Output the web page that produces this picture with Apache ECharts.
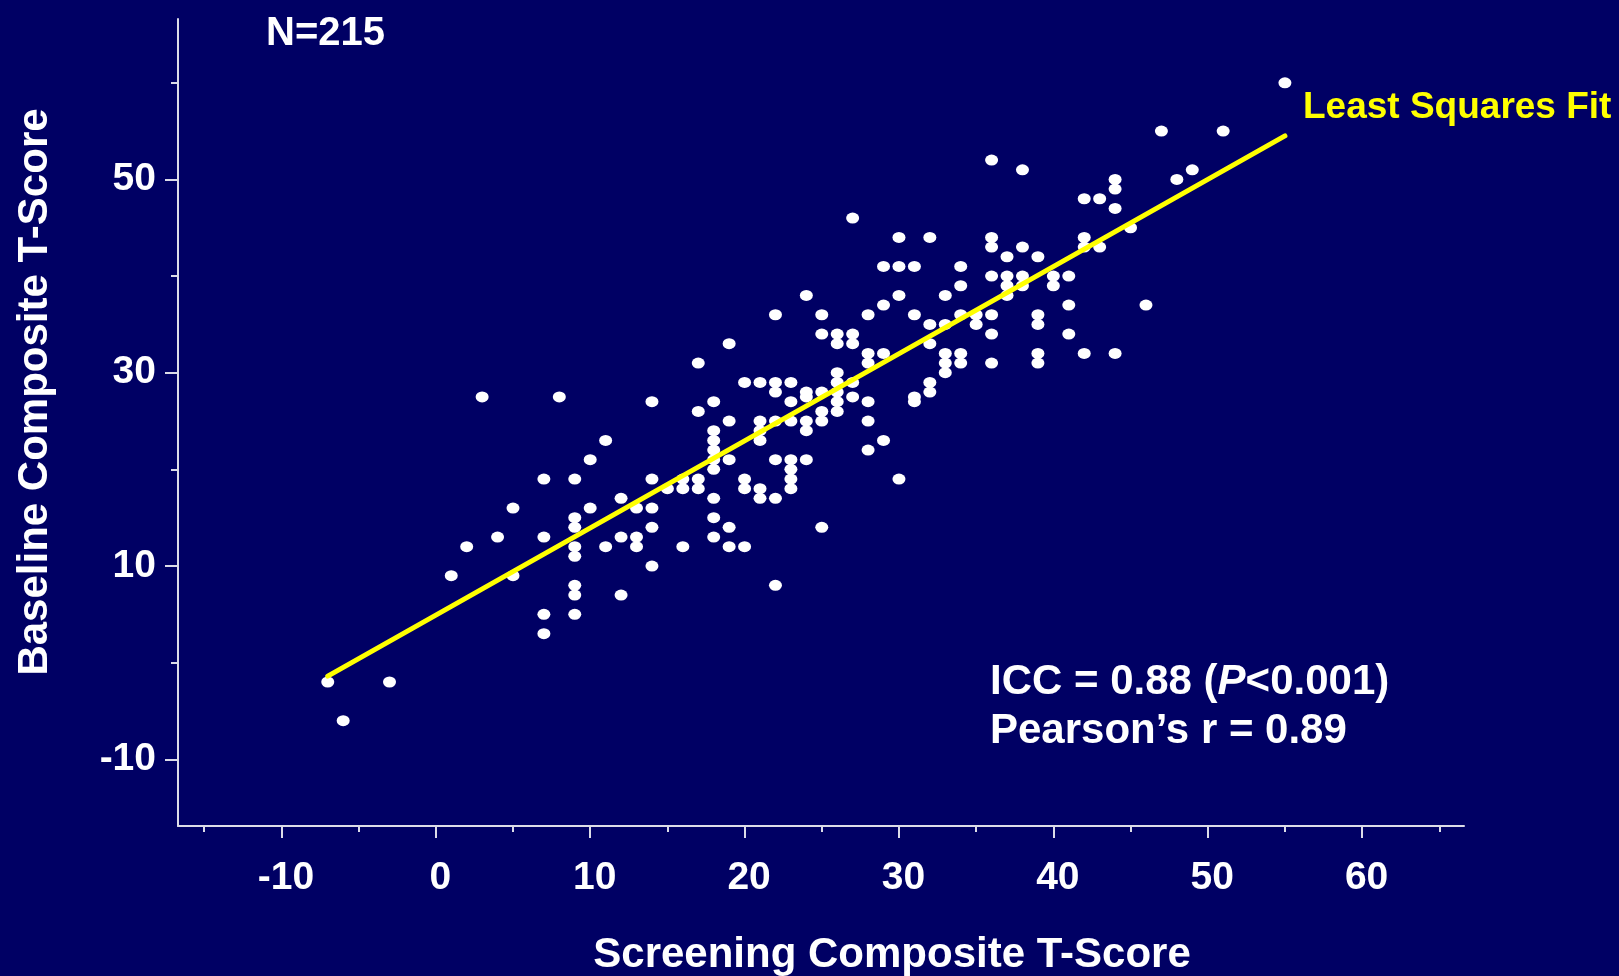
<!DOCTYPE html>
<html>
<head>
<meta charset="utf-8">
<title>Screening vs Baseline Composite T-Score</title>
<script src="https://cdn.jsdelivr.net/npm/echarts/dist/echarts.min.js"></script>
<style>
  html, body { margin: 0; padding: 0; background: #000064; }
  #chart { width: 1619px; height: 976px; }
</style>
</head>
<body>
<div id="chart"></div>
<script>
// data, grouped by screening score (x)
var screening = [
  -7, -6, -3,
  1, 2, 3, 4, 5, 5,
  7, 7, 7, 7, 8,
  9, 9, 9, 9, 9, 9, 9, 9,
  10, 10, 11, 11, 12, 12, 12, 13, 13, 13,
  14, 14, 14, 14, 14, 15, 16, 16, 16,
  17, 17, 17, 17,
  18, 18, 18, 18, 18, 18, 18, 18, 18,
  19, 19, 19, 19, 19,
  20, 20, 20, 20,
  21, 21, 21, 21, 21, 21,
  22, 22, 22, 22, 22, 22, 22,
  23, 23, 23, 23, 23, 23, 23,
  24, 24, 24, 24, 24, 24,
  25, 25, 25, 25, 25, 25,
  26, 26, 26, 26, 26, 26, 26,
  27, 27, 27, 27, 27,
  28, 28, 28, 28, 28, 28,
  29, 29, 29, 29,
  30, 30, 30, 30,
  31, 31, 31, 31,
  32, 32, 32, 32, 32,
  33, 33, 33, 33, 33,
  34, 34, 34, 34, 34,
  35, 35,
  36, 36, 36, 36, 36, 36, 36,
  37, 37, 37, 37,
  38, 38, 38, 38,
  39, 39, 39, 39, 39,
  40, 40, 41, 41, 41,
  42, 42, 42, 42, 43, 43,
  44, 44, 44, 44,
  45, 46, 47, 48, 49, 51, 55
];
var baseline = [
  -2, -6, -2,
  9, 12, 27.5, 13, 16, 9,
  19, 13, 5, 3, 27.5,
  19, 15, 14, 12, 11, 8, 7, 5,
  21, 16, 23, 12, 17, 13, 7, 16, 13, 12,
  27, 19, 16, 14, 10, 18, 19, 18, 12,
  31, 26, 19, 18,
  27, 24, 23, 22, 21, 20, 17, 15, 13,
  33, 25, 21, 14, 12,
  29, 19, 18, 12,
  29, 25, 24, 23, 18, 17,
  36, 29, 28, 25, 21, 17, 8,
  29, 27, 25, 21, 20, 19, 18,
  38, 28, 27.5, 25, 24, 21,
  36, 34, 28, 26, 25, 14,
  34, 33, 30, 29, 28, 27, 26,
  46, 34, 33, 29, 27.5,
  36, 32, 31, 27, 25, 22,
  41, 37, 32, 23,
  44, 41, 38, 19,
  41, 36, 27.5, 27,
  44, 35, 33, 29, 28,
  38, 35, 32, 31, 30,
  41, 39, 36, 32, 31,
  36, 35,
  52, 44, 43, 40, 36, 34, 31,
  42, 40, 39, 38,
  51, 43, 40, 39,
  42, 36, 35, 32, 31,
  40, 39, 40, 37, 34,
  48, 44, 43, 32, 48, 43,
  50, 49, 47, 32,
  45, 37, 55, 50, 51, 55, 60
];

// least squares fit line end points
var fitX = [-7, 55];
var fitY = [-1.4, 54.5];

// ticks
var xMajorTicks = [-10, 0, 10, 20, 30, 40, 50, 60];
var xMinorTicks = [-15, -5, 5, 15, 25, 35, 45, 55, 65];
var yMajorTicks = [-10, 10, 30, 50];
var yMinorTicks = [0, 20, 40, 60];

var fontFam = 'Arial, "Liberation Sans", Helvetica, sans-serif';
var white = '#ffffff';
var axisCol = '#dcdce8';

var points = [];
for (var i = 0; i < screening.length; i++) {
  points.push([screening[i], baseline[i]]);
}
var fitData = [];
for (var j = 0; j < fitX.length; j++) {
  fitData.push([fitX[j], fitY[j]]);
}

var labelStyle = {
  color: white,
  fontWeight: 'bold',
  fontSize: 39,
  fontFamily: fontFam
};

var chart = echarts.init(document.getElementById('chart'));

var option = {
  backgroundColor: '#000064',
  animation: false,
  grid: {
    left: 178,
    right: 155,
    top: 19,
    bottom: 150
  },
  xAxis: [{
    type: 'value',
    position: 'bottom',
    min: -16.7,
    max: 66.6,
    splitLine: { show: false },
    axisLine: { show: true, onZero: false, lineStyle: { color: axisCol, width: 2 } },
    axisTick: { show: true, length: 12, customValues: xMajorTicks, lineStyle: { color: axisCol, width: 2 } },
    axisLabel: Object.assign({ margin: 33, padding: [0, 0, 0, 9], customValues: xMajorTicks }, labelStyle)
  }, {
    type: 'value',
    position: 'bottom',
    min: -16.7,
    max: 66.6,
    splitLine: { show: false },
    axisLine: { show: false, onZero: false },
    axisTick: { show: true, length: 6, customValues: xMinorTicks, lineStyle: { color: axisCol, width: 2 } },
    axisLabel: { show: false }
  }],
  yAxis: [{
    type: 'value',
    position: 'left',
    min: -16.9,
    max: 66.6,
    splitLine: { show: false },
    axisLine: { show: true, onZero: false, lineStyle: { color: axisCol, width: 2 } },
    axisTick: { show: true, length: 13, customValues: yMajorTicks, lineStyle: { color: axisCol, width: 2 } },
    axisLabel: Object.assign({ margin: 22, padding: [4, 0, 0, 0], customValues: yMajorTicks }, labelStyle)
  }, {
    type: 'value',
    position: 'left',
    min: -16.9,
    max: 66.6,
    splitLine: { show: false },
    axisLine: { show: false, onZero: false },
    axisTick: { show: true, length: 7, customValues: yMinorTicks, lineStyle: { color: axisCol, width: 2 } },
    axisLabel: { show: false }
  }],
  series: [{
    name: 'Patients',
    type: 'scatter',
    xAxisIndex: 0,
    yAxisIndex: 0,
    symbol: 'circle',
    symbolSize: [13, 11],
    itemStyle: { color: white, opacity: 1 },
    data: points,
    z: 2
  }, {
    name: 'Least Squares Fit',
    type: 'line',
    xAxisIndex: 0,
    yAxisIndex: 0,
    symbol: 'none',
    lineStyle: { color: '#ffff00', width: 5, cap: 'round' },
    data: fitData,
    z: 3
  }],
  graphic: [{
    type: 'text',
    x: 266, y: 34,
    style: { text: 'N=215', fill: white, font: 'bold 40px ' + fontFam, align: 'left', verticalAlign: 'middle' }
  }, {
    type: 'text',
    x: 1303, y: 108,
    style: { text: 'Least Squares Fit', fill: '#ffff00', font: 'bold 37px ' + fontFam, align: 'left', verticalAlign: 'middle' }
  }, {
    type: 'text',
    x: 990, y: 682,
    style: {
      text: '{a|ICC = 0.88 (}{i|P}{a|<0.001)}',
      align: 'left', verticalAlign: 'middle',
      rich: {
        a: { fill: white, fontSize: 42, fontWeight: 'bold', fontFamily: fontFam },
        i: { fill: white, fontSize: 42, fontWeight: 'bold', fontStyle: 'italic', fontFamily: fontFam }
      }
    }
  }, {
    type: 'text',
    x: 990, y: 731,
    style: { text: 'Pearson\u2019s r = 0.89', fill: white, font: 'bold 42px ' + fontFam, align: 'left', verticalAlign: 'middle' }
  }, {
    type: 'text',
    x: 892, y: 955,
    style: { text: 'Screening Composite T-Score', fill: white, font: 'bold 42px ' + fontFam, align: 'center', verticalAlign: 'middle' }
  }, {
    type: 'text',
    x: 35, y: 392,
    rotation: Math.PI / 2,
    style: { text: 'Baseline Composite T-Score', fill: white, font: 'bold 42px ' + fontFam, align: 'center', verticalAlign: 'middle' }
  }]
};

chart.setOption(option);
</script>
</body>
</html>
